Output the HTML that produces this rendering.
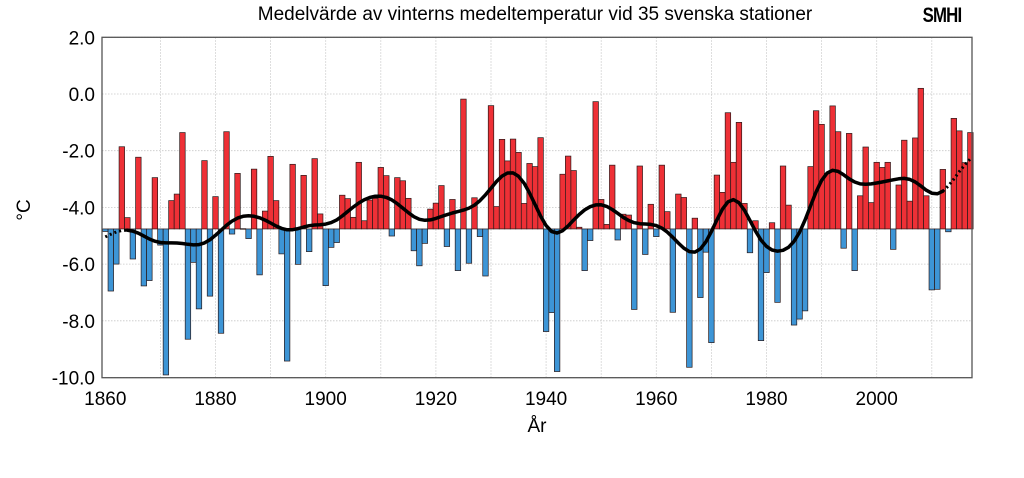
<!DOCTYPE html>
<html><head><meta charset="utf-8"><style>
body{margin:0;background:#fff;width:1024px;height:473px;overflow:hidden;font-family:"Liberation Sans",Arial,sans-serif}
</style></head><body>
<svg id="chart" width="1024" height="473" xmlns="http://www.w3.org/2000/svg" font-family="Liberation Sans, Arial, sans-serif">
<text x="535" y="20" font-size="19" text-anchor="middle" fill="#000">Medelvärde av vinterns medeltemperatur vid 35 svenska stationer</text>
<text x="942" y="22" font-size="21" font-weight="bold" text-anchor="middle" fill="#000" transform="translate(942 0) scale(0.8 1) translate(-942 0)" letter-spacing="-1">SMHI</text>
<g id="grid"></g>
<g id="bars"></g>
<g id="curve"></g>
<rect x="102" y="37.3" width="870" height="340.4" fill="none" stroke="#555" stroke-width="1.3"/>
<g id="yticks"></g>
<g id="xticks"></g>
<text x="0" y="0" font-size="19" text-anchor="middle" transform="translate(30 210) rotate(-90)">°C</text>
<text x="537" y="432" font-size="19" text-anchor="middle">År</text>
</svg>
<script>
const startYear = 1860;
const values = [-4.85,-6.95,-6.0,-1.86,-4.36,-5.82,-2.23,-6.77,-6.58,-2.95,
-5.33,-9.91,-3.76,-3.53,-1.36,-8.65,-5.94,-7.58,-2.35,-7.13,
-3.62,-8.44,-1.33,-4.94,-2.8,-4.75,-5.1,-2.65,-6.38,-4.13,
-2.2,-3.76,-5.64,-9.42,-2.48,-6.01,-2.87,-5.56,-2.28,-4.23,
-6.76,-5.41,-5.24,-3.57,-3.69,-4.35,-2.41,-4.47,-3.74,-3.68,
-2.59,-2.88,-5.01,-2.95,-3.06,-3.68,-5.53,-6.06,-5.27,-4.06,
-3.85,-3.23,-5.38,-3.72,-6.23,-0.18,-5.97,-3.66,-5.03,-6.42,
-0.41,-3.97,-1.6,-2.36,-1.59,-2.06,-3.86,-2.45,-2.56,-1.54,
-8.38,-7.71,-9.79,-2.83,-2.19,-2.7,-4.7,-6.23,-5.17,-0.27,
-3.72,-4.6,-2.51,-5.15,-4.24,-4.27,-7.6,-2.54,-5.66,-3.89,
-5.03,-2.51,-4.15,-7.7,-3.53,-3.65,-9.64,-4.38,-7.18,-5.58,
-8.77,-2.86,-3.47,-0.66,-2.41,-1.0,-3.86,-5.6,-4.47,-8.7,
-6.3,-4.54,-7.35,-2.54,-3.92,-8.15,-7.94,-7.65,-2.56,-0.59,
-1.07,-2.8,-0.42,-1.33,-5.44,-1.39,-6.23,-3.59,-1.87,-3.83,
-2.41,-2.59,-2.41,-5.48,-3.21,-1.63,-3.78,-1.55,0.2,-3.59,
-6.91,-6.89,-2.66,-4.86,-0.86,-1.3,-2.42,-1.36];
const baseline = -4.76;
const yTicks = [2,0,-2,-4,-6,-8,-10];
const xTicks = [1860,1880,1900,1920,1940,1960,1980,2000];
const NS="http://www.w3.org/2000/svg";
function X(t){return 105.3+(t-1860)*5.51;}
function Y(v){return 37.3+(2-v)*28.35;}
function mk(tag,parent,attrs){const e=document.createElementNS(NS,tag);for(const k in attrs)e.setAttribute(k,attrs[k]);document.getElementById(parent).appendChild(e);return e;}
// grid
for(const v of yTicks){
  const l=mk('line','grid',{x1:102,x2:972,y1:Y(v),y2:Y(v),stroke:'#c8c8c8','stroke-width':0.8,'stroke-dasharray':'1.5 1.5'});
  
  
  const t=mk('text','yticks',{x:95,y:Y(v)+7,'font-size':19,'text-anchor':'end'});
  t.textContent=v.toFixed(1);
  
  
}
for(let yr=1870;yr<=2010;yr+=10){
  const l=mk('line','grid',{x1:X(yr),x2:X(yr),y1:37.3,y2:377.7,stroke:'#c8c8c8','stroke-width':0.8,'stroke-dasharray':'1.5 1.5'});
  
  
}
for(const yr of xTicks){
  const t=mk('text','xticks',{x:X(yr),y:405,'font-size':19,'text-anchor':'middle'});
  t.textContent=yr;
  
  
}
// bars
const w=5.51;
values.forEach((v,i)=>{
  const yr=startYear+i;
  const y0=Y(baseline),y1=Y(v);
  const r=mk('rect','bars',{x:X(yr)-w/2,y:Math.min(y0,y1),width:w,height:Math.max(0.6,Math.abs(y1-y0)),fill:v>baseline?'#ee3036':'#3d95d6',stroke:'#2a1a1a','stroke-width':0.7});
  
  
});
// smoothed curve (gaussian filter of data)
const sigma=3.2;
const sm=values.map((_,i)=>{let s=0,ws=0;for(let j=0;j<values.length;j++){const d=j-i;if(Math.abs(d)>4*sigma)continue;const g=Math.exp(-d*d/(2*sigma*sigma));s+=g*values[j];ws+=g;}return s/ws;});
const solidStart=4, solidEnd=values.length-6;
function pts(a,b){let p=[];for(let i=a;i<=b;i++)p.push(X(startYear+i).toFixed(1)+','+Y(sm[i]).toFixed(1));return p.join(' ');}
let c=mk('polyline','curve',{points:pts(solidStart,solidEnd),fill:'none',stroke:'#000','stroke-width':3.5,'stroke-linejoin':'round','stroke-linecap':'round'});


c=mk('polyline','curve',{points:pts(0,solidStart),fill:'none',stroke:'#000','stroke-width':3,'stroke-dasharray':'2 3'});


c=mk('polyline','curve',{points:pts(solidEnd,values.length-1),fill:'none',stroke:'#000','stroke-width':3,'stroke-dasharray':'2 3'});


</script>
</body></html>
